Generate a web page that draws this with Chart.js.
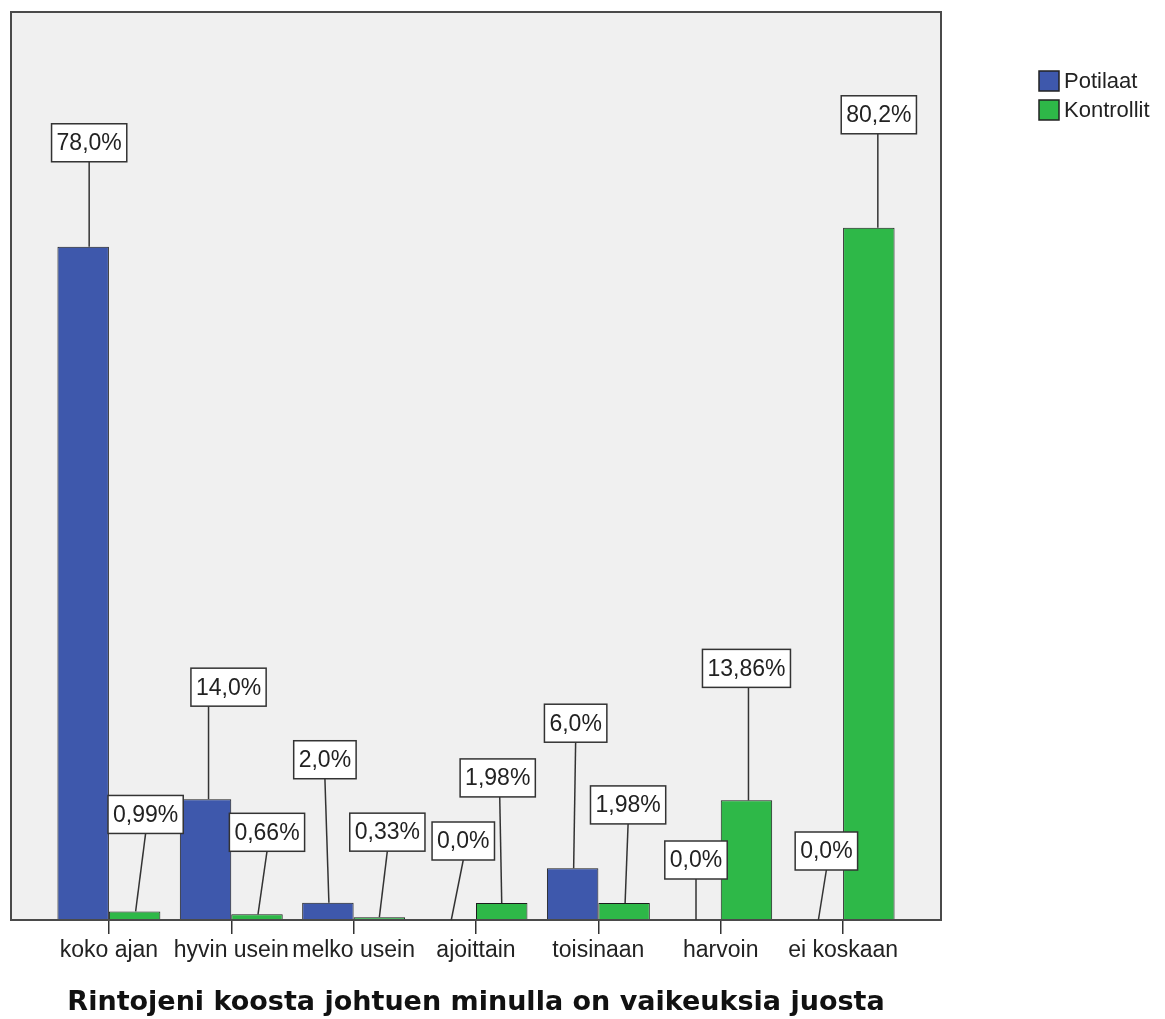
<!DOCTYPE html>
<html>
<head>
<meta charset="utf-8">
<script src="https://cdn.jsdelivr.net/npm/chart.js@4"></script>
<style>
  html, body { margin: 0; padding: 0; background: #ffffff; }
  #wrap { position: relative; width: 1165px; height: 1019px; }
</style>
</head>
<body>
<div id="wrap"><canvas id="chart"></canvas></div>
<script>
// Answer categories along the x axis
const categories = ['koko ajan', 'hyvin usein', 'melko usein', 'ajoittain', 'toisinaan', 'harvoin', 'ei koskaan'];

// Share of respondents (%) per answer
const potilaat   = [78.0, 14.0, 2.0, 0.0, 6.0, 0.0, 0.0];
const kontrollit = [0.99, 0.66, 0.33, 1.98, 1.98, 13.86, 80.2];

// Decimals shown in each value label
const potilaatDecimals   = [1, 1, 1, 1, 1, 1, 1];
const kontrollitDecimals = [2, 2, 2, 2, 2, 2, 1];

const seriesNames = ['Potilaat', 'Kontrollit'];
const titleText = 'Rintojeni koosta johtuen minulla on vaikeuksia juosta';

// Callout placement per bar: [leader foot dx, box dx, box dy, leader top dx] in px,
// relative to the bar's top centre.
const calloutPlacement = [
  [[6, 6, -104, 0], [3, 23, -112, -20], [1, -3, -143, 0], [1, 13, -79, 0], [1, 3, -145, 0], [1, 1, -60, 0], [1, 9, -69, 0]],
  [[1, 11, -97, 0], [1, 10, -82, 0], [0, 8, -85, 0], [0, -4, -125, 2], [1, 4, -98, 0], [2, 0, -132, 2], [9, 10, -113, -1]]
];

const decimals = [potilaatDecimals, kontrollitDecimals];

function fmtPercent(v, d) {
  return v.toFixed(d).replace('.', ',') + '%';
}

// Grey plot panel with a dark frame
const panelPlugin = {
  id: 'panel',
  beforeDraw(chart) {
    const { ctx, chartArea: a } = chart;
    ctx.save();
    ctx.fillStyle = '#f0f0f0';
    ctx.fillRect(a.left, a.top, a.right - a.left, a.bottom - a.top);
    ctx.restore();
  },
  afterDatasetsDraw(chart) {
    const { ctx, chartArea: a } = chart;
    ctx.save();
    ctx.strokeStyle = '#4a4a4a';
    ctx.lineWidth = 2;
    ctx.strokeRect(a.left, a.top, a.right - a.left, a.bottom - a.top);
    ctx.restore();
  }
};

// Boxed value labels with leader lines
const calloutPlugin = {
  id: 'callouts',
  afterDatasetsDraw(chart) {
    const { ctx } = chart;
    ctx.save();
    ctx.font = '23px "Liberation Sans", Arial, sans-serif';
    ctx.textAlign = 'center';
    ctx.textBaseline = 'middle';
    chart.data.datasets.forEach((ds, di) => {
      const meta = chart.getDatasetMeta(di);
      meta.data.forEach((bar, i) => {
        const v = ds.data[i].y;
        const [footDx, boxDx, boxDy, topDx] = calloutPlacement[di][i];
        const text = fmtPercent(v, decimals[di][i]);
        const tw = ctx.measureText(text).width;
        const bw = tw + 10, bh = 38;
        const cx = bar.x + boxDx, cy = bar.y + boxDy;
        // leader line
        ctx.strokeStyle = '#333333';
        ctx.lineWidth = 1.5;
        ctx.beginPath();
        ctx.moveTo(cx + topDx, cy + bh / 2);
        ctx.lineTo(bar.x + footDx, bar.y);
        ctx.stroke();
        // box
        ctx.fillStyle = '#ffffff';
        ctx.fillRect(cx - bw / 2, cy - bh / 2, bw, bh);
        ctx.strokeRect(cx - bw / 2, cy - bh / 2, bw, bh);
        ctx.fillStyle = '#222222';
        ctx.fillText(text, cx, cy + 1);
      });
    });
    ctx.restore();
  }
};

// Legend at the top right
const legendPlugin = {
  id: 'sideLegend',
  afterDraw(chart) {
    const { ctx } = chart;
    ctx.save();
    ctx.font = '22px "Liberation Sans", Arial, sans-serif';
    ctx.textBaseline = 'middle';
    chart.data.datasets.forEach((ds, di) => {
      const y = 71 + di * 29;
      ctx.fillStyle = ds.backgroundColor;
      ctx.fillRect(1039, y, 20, 20);
      ctx.strokeStyle = '#222222';
      ctx.lineWidth = 1.5;
      ctx.strokeRect(1039, y, 20, 20);
      ctx.fillStyle = '#222222';
      ctx.fillText(ds.label, 1064, y + 11);
    });
    ctx.restore();
  }
};

new Chart(document.getElementById('chart'), {
  type: 'bar',
  data: {
    datasets: [
      {
        label: seriesNames[0],
        data: potilaat.map((v, i) => ({ x: i, y: v })),
        backgroundColor: '#3E58AC',
        borderColor: '#1c1c1c',
        borderWidth: 1,
        categoryPercentage: 0.841,
        barPercentage: 1.0
      },
      {
        label: seriesNames[1],
        data: kontrollit.map((v, i) => ({ x: i, y: v })),
        backgroundColor: '#2EB848',
        borderColor: '#1c1c1c',
        borderWidth: 1,
        categoryPercentage: 0.841,
        barPercentage: 1.0
      }
    ]
  },
  options: {
    responsive: true,
    maintainAspectRatio: false,
    animation: false,
    layout: { padding: { left: 11, top: 12, right: 224, bottom: 0 } },
    plugins: {
      legend: { display: false },
      tooltip: { enabled: false }
    },
    scales: {
      x: {
        type: 'linear',
        offset: false,
        min: -0.8,
        max: 6.8,
        afterFit(scale) { scale.height = 99; },
        ticks: {
          stepSize: 1,
          includeBounds: false,
          autoSkip: false,
          maxRotation: 0,
          padding: 3,
          color: '#222222',
          font: { family: '"Liberation Sans", Arial, sans-serif', size: 23 },
          callback: (value) => categories[value] ?? ''
        },
        grid: {
          offset: false,
          drawOnChartArea: false,
          drawTicks: true,
          tickLength: 14,
          color: '#333333',
          lineWidth: 1.5
        },
        border: { display: false },
        title: {
          display: true,
          text: titleText,
          color: '#111111',
          font: { family: '"DejaVu Sans", sans-serif', size: 27, weight: 'bold' },
          padding: { top: 0, bottom: 0 }
        }
      },
      y: {
        display: false,
        min: 0,
        max: 105.2
      }
    }
  },
  plugins: [panelPlugin, calloutPlugin, legendPlugin]
});
</script>
</body>
</html>
